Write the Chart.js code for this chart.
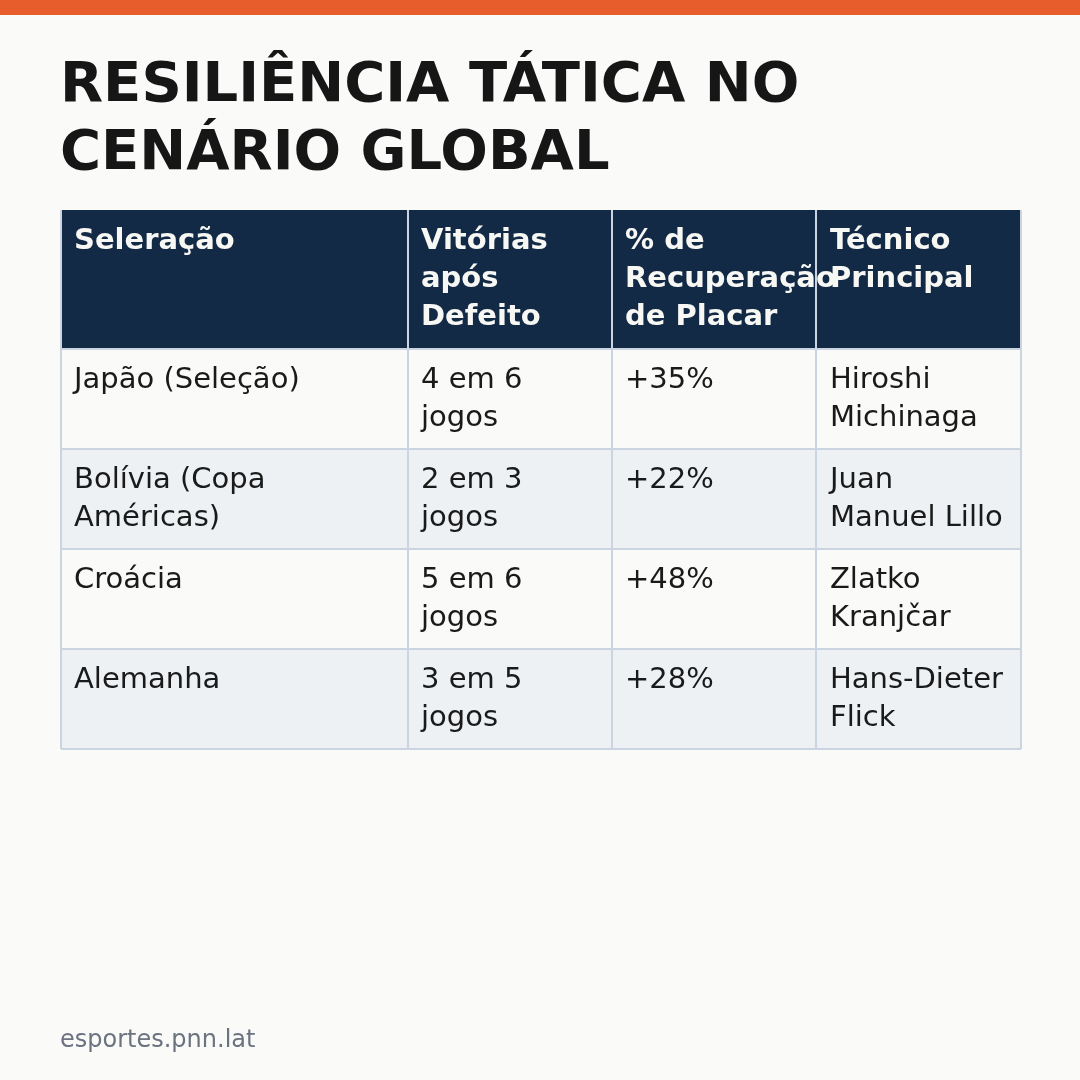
<!DOCTYPE html>
<html lang="pt">
<head>
<meta charset="utf-8">
<script src="https://cdn.jsdelivr.net/npm/chart.js@4.4.1/dist/chart.umd.min.js"></script>
<style>
  html, body { margin: 0; padding: 0; }
  body { width: 1080px; height: 1080px; background: #fafaf8; position: relative; overflow: hidden; font-family: "DejaVu Sans", sans-serif; }
  #faixa { position: absolute; left: 0; top: 0; width: 1080px; height: 15px; background: #e85d2c; }
  #titulo { position: absolute; left: 60px; top: 48px; margin: 0; font-size: 56px; line-height: 68px; font-weight: bold; color: #161616; }
  #rodape { position: absolute; left: 60px; top: 1027px; font-size: 24px; line-height: 24px; color: #6b7280; }
  #tabela { position: absolute; left: 0; top: 0; }
</style>
</head>
<body>
<div id="faixa"></div>
<h1 id="titulo">RESILIÊNCIA TÁTICA NO<br>CENÁRIO GLOBAL</h1>
<canvas id="tabela" width="1080" height="1080"></canvas>
<div id="rodape">esportes.pnn.lat</div>
<script>
// dados da tabela
const cabecalhos = ['Seleração', 'Vitórias após Defeito', '% de Recuperação de Placar', 'Técnico Principal'];
const selecoes = ['Japão (Seleção)', 'Bolívia (Copa Américas)', 'Croácia', 'Alemanha'];
const vitorias = ['4 em 6 jogos', '2 em 3 jogos', '5 em 6 jogos', '3 em 5 jogos'];
const recuperacao = [35, 22, 48, 28];
const tecnicos = ['Hiroshi Michinaga', 'Juan Manuel Lillo', 'Zlatko Kranjčar', 'Hans-Dieter Flick'];

// layout
const larguraColunas = [347, 204, 204, 205];
const alturaLinha = 38;
const padX = 13;
const padY = 12;
const fonteCab = 'bold 29px "DejaVu Sans"';
const fonteCorpo = '29px "DejaVu Sans"';

let canvas = document.getElementById('tabela');
let ctx = canvas.getContext('2d');

// quebra o texto nas palavras que cabem na coluna
function quebrar(texto, fonte, largura) {
    ctx.font = fonte;
    let palavras = texto.split(' ');
    let linhas = [];
    let atual = '';
    palavras.forEach(function (p) {
        let teste = atual ? atual + ' ' + p : p;
        if (atual && ctx.measureText(teste).width > largura) {
            linhas.push(atual);
            atual = p;
        } else {
            atual = teste;
        }
    });
    if (atual) linhas.push(atual);
    return linhas;
}

// monta as linhas da tabela
let linhasTabela = [cabecalhos];
for (let i = 0; i < selecoes.length; i++) {
    linhasTabela.push([selecoes[i], vitorias[i], '+' + recuperacao[i] + '%', tecnicos[i]]);
}

// bordas das colunas e das linhas em unidades das escalas
let bordasX = [0];
larguraColunas.forEach(function (w) { bordasX.push(bordasX[bordasX.length - 1] + w); });

let celulas = linhasTabela.map(function (linha, r) {
    let fonte = r === 0 ? fonteCab : fonteCorpo;
    return linha.map(function (txt, c) {
        return quebrar(txt, fonte, larguraColunas[c] - 2 * padX - 4);
    });
});
let bordasY = [0];
celulas.forEach(function (linha, r) {
    let n = Math.max.apply(null, linha.map(function (l) { return l.length; }));
    bordasY.push(bordasY[bordasY.length - 1] + n * alturaLinha + 2 * padY + (r === 0 ? 1 : 0));
});

const pluginTabela = {
    id: 'pluginTabela',
    beforeDatasetsDraw: function (chart) {
        let g = chart.ctx;
        let sx = chart.scales.x;
        let sy = chart.scales.y;
        g.save();
        let xa = sx.getPixelForValue(0), xb = sx.getPixelForValue(bordasX[bordasX.length - 1]);
        let ya = sy.getPixelForValue(0), yb = sy.getPixelForValue(bordasY[bordasY.length - 1]);
        // fundos
        for (let r = 0; r < celulas.length; r++) {
            let y0 = sy.getPixelForValue(bordasY[r]);
            let y1 = sy.getPixelForValue(bordasY[r + 1]);
            g.fillStyle = r === 0 ? '#132a46' : (r % 2 === 0 ? '#edf1f4' : '#fafaf8');
            g.fillRect(xa, y0, xb - xa, y1 - y0);
        }
        // grade
        g.strokeStyle = '#cbd5e1';
        g.lineWidth = 2;
        bordasY.forEach(function (v, i) {
            if (i === 0) return;
            let y = sy.getPixelForValue(v);
            g.beginPath(); g.moveTo(xa, y); g.lineTo(xb, y); g.stroke();
        });
        bordasX.forEach(function (v) {
            let x = sx.getPixelForValue(v);
            g.beginPath(); g.moveTo(x, ya); g.lineTo(x, yb); g.stroke();
        });
        // textos
        g.textBaseline = 'alphabetic';
        g.textAlign = 'left';
        celulas.forEach(function (linha, r) {
            g.font = r === 0 ? fonteCab : fonteCorpo;
            g.fillStyle = r === 0 ? '#f7f7f4' : '#1a1a1a';
            let topo = sy.getPixelForValue(bordasY[r]);
            linha.forEach(function (ls, c) {
                let x = sx.getPixelForValue(bordasX[c]) + padX + (c === 3 ? 1 : 0);
                ls.forEach(function (t, k) {
                    g.fillText(t, x, topo + padY + 27 + k * alturaLinha);
                });
            });
        });
        g.restore();
    }
};

let tabelaChart = new Chart(canvas, {
    type: 'scatter',
    data: { datasets: [] },
    options: {
        responsive: false,
        animation: false,
        devicePixelRatio: 1,
        layout: { padding: { left: 61, right: 59, top: 210, bottom: 1080 - 210 - bordasY[bordasY.length - 1] } },
        scales: {
            x: { type: 'linear', display: false, min: 0, max: bordasX[bordasX.length - 1] },
            y: { type: 'linear', display: false, reverse: true, min: 0, max: bordasY[bordasY.length - 1] }
        },
        plugins: { legend: { display: false }, tooltip: { enabled: false } }
    },
    plugins: [pluginTabela]
});
</script>
</body>
</html>
